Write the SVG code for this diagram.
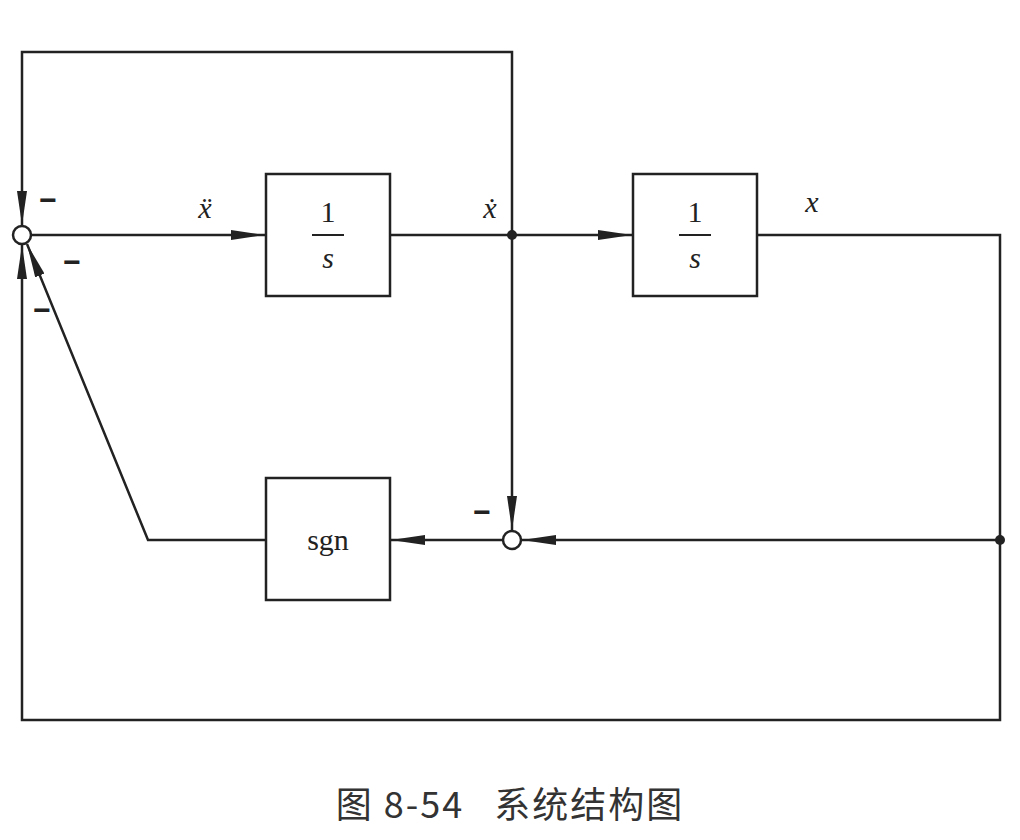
<svg xmlns="http://www.w3.org/2000/svg" width="1020" height="840" viewBox="0 0 1020 840">
<defs>
<marker id="a" viewBox="0 0 34 10" refX="34" refY="5" markerWidth="34" markerHeight="10" markerUnits="userSpaceOnUse" orient="auto"><path d="M0,0 L34,5 L0,10 z" fill="#222"/></marker>
<style>
.l{fill:none;stroke:#222;stroke-width:2.5}
.b{fill:#fff;stroke:#222;stroke-width:2.5}
.t{font-family:"Liberation Serif",serif;fill:#222}
.s{font-family:"Liberation Sans",sans-serif;fill:#222;font-size:30px;font-weight:bold}
</style>
</defs>
<rect width="1020" height="840" fill="#fff"/>
<g id="connectors">
<path class="l" d="M512,235 V52 H22 V225" marker-end="url(#a)"/>
<path class="l" d="M31,235 H265" marker-end="url(#a)"/>
<path class="l" d="M390,235 H632" marker-end="url(#a)"/>
<path class="l" d="M757,235 H1000 V720 H22 V245" marker-end="url(#a)"/>
<path class="l" d="M512,235 V530" marker-end="url(#a)"/>
<path class="l" d="M1000,540 H522" marker-end="url(#a)"/>
<path class="l" d="M502,540 H391" marker-end="url(#a)"/>
<path class="l" d="M266,540 H148 L27,244" marker-end="url(#a)"/>
<circle cx="512" cy="235" r="5" fill="#222"/>
<circle cx="1000" cy="540" r="5" fill="#222"/>
</g>
<g id="sum1"><circle class="b" cx="22" cy="235" r="9"/></g>
<g id="sum2"><circle class="b" cx="512" cy="540" r="9"/></g>
<g id="int1"><rect class="b" x="266" y="174" width="124" height="122"/>
<text class="t" x="328" y="222" font-size="30" text-anchor="middle">1</text>
<line x1="312" y1="235" x2="344" y2="235" stroke="#222" stroke-width="2"/>
<text class="t" x="328" y="268" font-size="30" font-style="italic" text-anchor="middle">s</text></g>
<g id="int2"><rect class="b" x="633" y="174" width="124" height="122"/>
<text class="t" x="695" y="222" font-size="30" text-anchor="middle">1</text>
<line x1="679" y1="235" x2="711" y2="235" stroke="#222" stroke-width="2"/>
<text class="t" x="695" y="268" font-size="30" font-style="italic" text-anchor="middle">s</text></g>
<g id="sgn"><rect class="b" x="266" y="478" width="124" height="122"/>
<text class="t" x="328" y="550" font-size="30" text-anchor="middle">sgn</text></g>
<text class="t" x="205" y="218" font-size="30" font-style="italic" text-anchor="middle">ẍ</text>
<text class="t" x="490" y="218" font-size="30" font-style="italic" text-anchor="middle">ẋ</text>
<text class="t" x="812" y="212" font-size="30" font-style="italic" text-anchor="middle">x</text>
<text class="s" x="48" y="210" text-anchor="middle">−</text>
<text class="s" x="72" y="272" text-anchor="middle">−</text>
<text class="s" x="42" y="320" text-anchor="middle">−</text>
<text class="s" x="482" y="522" text-anchor="middle">−</text>
<text x="510" y="818" font-family="Noto Sans CJK SC, sans-serif" font-size="36" fill="#333" text-anchor="middle" letter-spacing="2" xml:space="preserve">图 8-54   系统结构图</text>
</svg>
